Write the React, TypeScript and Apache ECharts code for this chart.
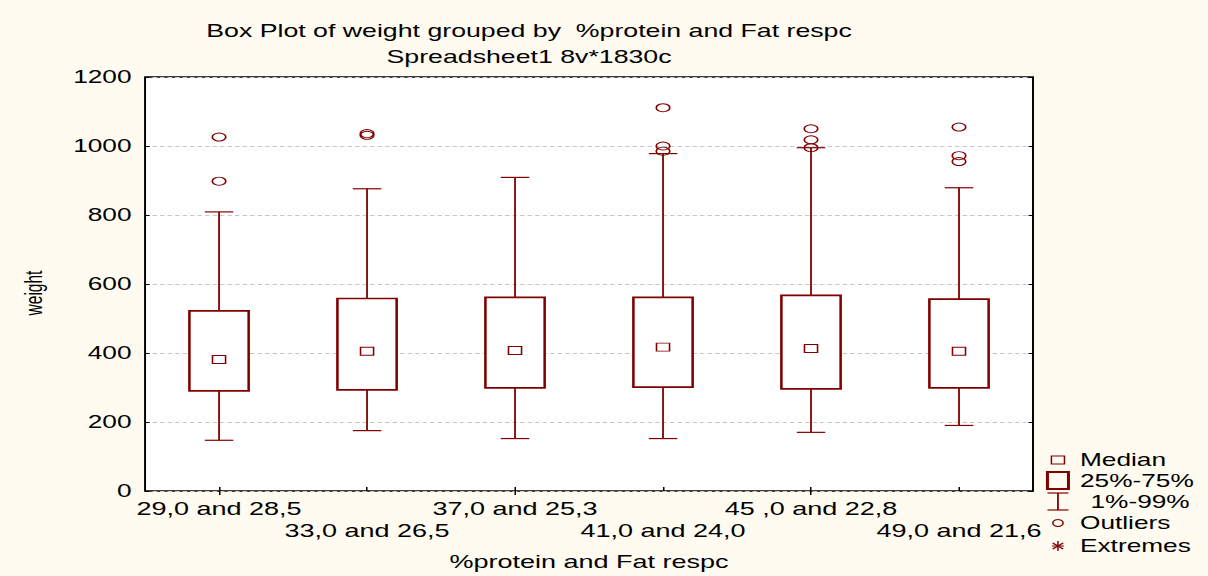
import React, { useEffect, useRef } from "react";
import * as echarts from "echarts";

const categories = [
  "29,0 and 28,5",
  "33,0 and 26,5",
  "37,0 and 25,3",
  "41,0 and 24,0",
  "45 ,0 and 22,8",
  "49,0 and 21,6",
];
const whiskerLow = [147, 175, 152, 152, 170, 190];
const q1 = [290, 293, 299, 301, 296, 299];
const median = [381, 405, 407, 417, 413, 405];
const q3 = [522, 558, 561, 561, 567, 556];
const whiskerHigh = [809, 876, 909, 978, 995, 879];
const outliers: number[][] = [
  [1026, 898],
  [1031, 1036],
  [],
  [1111, 1000, 985],
  [1050, 1018, 995],
  [1055, 972, 955],
];
const yTicks = { min: 0, max: 1200, interval: 200 };
const titleLines = [
  "Box Plot of weight grouped by  %protein and Fat respc",
  "Spreadsheet1 8v*1830c",
];
const legendLabels = ["Median", "25%-75%", "1%-99%", "Outliers", "Extremes"];

const DARK = "#800000";
const FONT = '"Liberation Sans", Arial, sans-serif';
const SX = 1.5;

export default function App() {
  const ref = useRef<HTMLDivElement>(null);
  useEffect(() => {
    const chart = echarts.init(ref.current!, null, { renderer: "svg" });

    const boxData = categories.map((_, i) => [
      i,
      whiskerLow[i],
      q1[i],
      median[i],
      q3[i],
      whiskerHigh[i],
    ]);
    const medData = categories.map((_, i) => [i, median[i]]);
    const outData: number[][] = [];
    outliers.forEach((arr, i) => arr.forEach((v) => outData.push([i, v])));

    const lx = 705.3;
    const tx = 720;
    const rows = [460, 481, 502, 523, 546];
    const textStyle = (t: string, x: number, y: number, size = 17.5) => ({
      type: "text",
      x,
      y,
      silent: true,
      style: {
        text: t,
        fill: "#000",
        fontSize: size,
        fontFamily: FONT,
        textAlign: "left",
        textVerticalAlign: "middle",
      },
    });

    const option: any = {
      animation: false,
      backgroundColor: "transparent",
      grid: {
        left: 96.7,
        right: 805 - 1033 / SX,
        top: 77,
        bottom: 81,
        show: true,
        backgroundColor: "#fff",
        borderColor: "#000",
        borderWidth: 1.3,
        containLabel: false,
      },
      xAxis: [
        {
          type: "category",
          data: categories,
          position: "bottom",
          boundaryGap: true,
          axisLine: { show: false },
          axisTick: {
            show: true,
            inside: true,
            alignWithLabel: true,
            length: 4,
            lineStyle: { color: "#000", width: 1 },
          },
          axisLabel: {
            interval: 0,
            margin: 7,
            color: "#000",
            fontSize: 18,
            fontFamily: FONT,
            lineHeight: 22,
            formatter: (v: string, i: number) => (i % 2 === 1 ? "\n" + v : v),
          },
          splitLine: { show: false },
          name: "%protein and Fat respc",
          nameLocation: "middle",
          nameGap: 62,
          nameTextStyle: { color: "#000", fontSize: 18, fontFamily: FONT },
        },
        {
          type: "category",
          data: categories,
          position: "top",
          boundaryGap: true,
          axisLine: { show: false },
          axisTick: {
            show: true,
            inside: true,
            alignWithLabel: true,
            length: 4,
            lineStyle: { color: "#000", width: 1 },
          },
          axisLabel: { show: false },
          splitLine: { show: false },
        },
      ],
      yAxis: [
        {
          type: "value",
          min: yTicks.min,
          max: yTicks.max,
          interval: yTicks.interval,
          position: "left",
          axisLine: { show: false },
          axisTick: {
            show: true,
            inside: true,
            length: 3,
            lineStyle: { color: "#000", width: 1 },
          },
          axisLabel: {
            margin: 9,
            color: "#000",
            fontSize: 17.5,
            fontFamily: FONT,
            formatter: (v: number) => String(v),
          },
          splitLine: {
            show: true,
            lineStyle: { color: "#c8c8c8", type: [3, 2], width: 1 },
          },
          name: "weight",
          nameLocation: "middle",
          nameGap: 66,
          nameTextStyle: {
            color: "#000",
            fontSize: 15.5,
            fontFamily: FONT,
            padding: [0, 18, 0, 0],
          },
        },
        {
          type: "value",
          min: yTicks.min,
          max: yTicks.max,
          interval: yTicks.interval,
          position: "right",
          axisLine: { show: false },
          axisTick: {
            show: true,
            inside: true,
            length: 3,
            lineStyle: { color: "#000", width: 1 },
          },
          axisLabel: { show: false },
          splitLine: { show: false },
        },
      ],
      series: [
        {
          type: "custom",
          name: "25%-75%",
          silent: true,
          xAxisIndex: 0,
          yAxisIndex: 0,
          data: boxData,
          encode: { x: 0, y: [1, 2, 3, 4, 5] },
          renderItem: (params: any, api: any) => {
            const xi = api.value(0);
            const lo = api.coord([xi, api.value(1)]);
            const a = api.coord([xi, api.value(2)]);
            const b = api.coord([xi, api.value(4)]);
            const hi = api.coord([xi, api.value(5)]);
            const cx = lo[0];
            const bw = 39.5;
            const cw = 19;
            const ls = { stroke: DARK, lineWidth: 1.2 };
            return {
              type: "group",
              children: [
                { type: "line", shape: { x1: cx, y1: hi[1], x2: cx, y2: b[1] }, style: ls },
                { type: "line", shape: { x1: cx, y1: a[1], x2: cx, y2: lo[1] }, style: ls },
                { type: "line", shape: { x1: cx - cw / 2, y1: hi[1], x2: cx + cw / 2, y2: hi[1] }, style: ls },
                { type: "line", shape: { x1: cx - cw / 2, y1: lo[1], x2: cx + cw / 2, y2: lo[1] }, style: ls },
                {
                  type: "rect",
                  shape: { x: cx - bw / 2, y: b[1], width: bw, height: a[1] - b[1] },
                  style: { fill: "#fff", stroke: DARK, lineWidth: 1.7 },
                },
              ],
            };
          },
          z: 2,
        },
        {
          type: "scatter",
          name: "Median",
          silent: true,
          data: medData,
          symbol: "rect",
          symbolSize: [8.7, 8],
          itemStyle: { color: "#fff", borderColor: DARK, borderWidth: 1, opacity: 1 },
          z: 3,
        },
        {
          type: "scatter",
          name: "Outliers",
          silent: true,
          data: outData,
          symbol: "circle",
          symbolSize: [9, 8],
          itemStyle: { color: "rgba(255,255,255,0)", borderColor: DARK, borderWidth: 1, opacity: 1 },
          z: 4,
        },
      ],
      graphic: [
        {
          type: "text",
          x: 352.7,
          y: 31,
          silent: true,
          style: {
            text: titleLines[0],
            fill: "#000",
            fontSize: 17.8,
            fontFamily: FONT,
            textAlign: "center",
            textVerticalAlign: "middle",
          },
        },
        {
          type: "text",
          x: 352.7,
          y: 57,
          silent: true,
          style: {
            text: titleLines[1],
            fill: "#000",
            fontSize: 17.8,
            fontFamily: FONT,
            textAlign: "center",
            textVerticalAlign: "middle",
          },
        },
        {
          type: "rect",
          silent: true,
          shape: { x: lx - 4.35, y: rows[0] - 4, width: 8.7, height: 8 },
          style: { fill: "none", stroke: DARK, lineWidth: 1 },
        },
        {
          type: "rect",
          silent: true,
          shape: { x: lx - 7, y: 472, width: 14, height: 17 },
          style: { fill: "none", stroke: DARK, lineWidth: 2 },
        },
        { type: "line", silent: true, shape: { x1: lx - 7, y1: 493, x2: lx + 7, y2: 493 }, style: { stroke: DARK, lineWidth: 1.2 } },
        { type: "line", silent: true, shape: { x1: lx - 7, y1: 510, x2: lx + 7, y2: 510 }, style: { stroke: DARK, lineWidth: 1.2 } },
        { type: "line", silent: true, shape: { x1: lx, y1: 493, x2: lx, y2: 510 }, style: { stroke: DARK, lineWidth: 1.2 } },
        {
          type: "circle",
          silent: true,
          shape: { cx: lx, cy: rows[3], r: 3.5 },
          style: { fill: "none", stroke: DARK, lineWidth: 1 },
        },
        { type: "line", silent: true, shape: { x1: lx, y1: rows[4] - 5, x2: lx, y2: rows[4] + 5 }, style: { stroke: DARK, lineWidth: 1 } },
        { type: "line", silent: true, shape: { x1: lx - 3.5, y1: rows[4] - 3, x2: lx + 3.5, y2: rows[4] + 3 }, style: { stroke: DARK, lineWidth: 1 } },
        { type: "line", silent: true, shape: { x1: lx - 3.5, y1: rows[4] + 3, x2: lx + 3.5, y2: rows[4] - 3 }, style: { stroke: DARK, lineWidth: 1 } },
        { type: "line", silent: true, shape: { x1: lx - 4, y1: rows[4], x2: lx + 4, y2: rows[4] }, style: { stroke: DARK, lineWidth: 1 } },
        textStyle(legendLabels[0], tx, rows[0]),
        textStyle(legendLabels[1], tx, rows[1]),
        textStyle(legendLabels[2], tx + 7, rows[2]),
        textStyle(legendLabels[3], tx, rows[3]),
        textStyle(legendLabels[4], tx, rows[4]),
      ],
    };

    chart.setOption(option);
    return () => chart.dispose();
  }, []);

  return (
    <div
      style={{
        position: "fixed",
        left: 0,
        top: 0,
        width: 1208,
        height: 576,
        background: "#FFFBF0",
        overflow: "hidden",
      }}
    >
      <div
        ref={ref}
        style={{
          width: 805,
          height: 576,
          transform: `scaleX(${SX})`,
          transformOrigin: "0 0",
        }}
      />
    </div>
  );
}
